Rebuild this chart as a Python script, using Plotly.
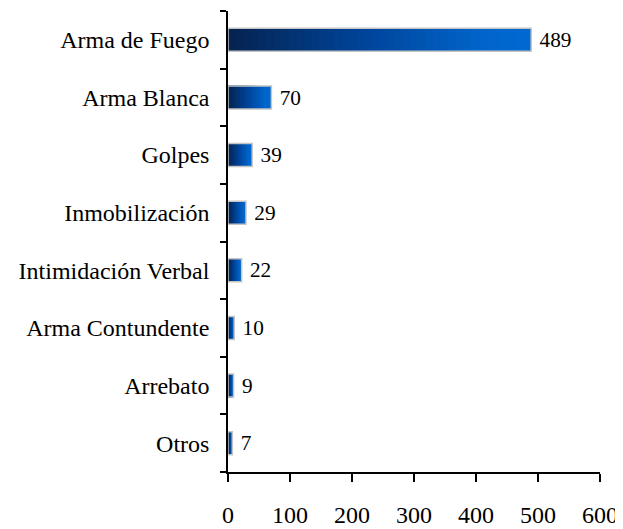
import plotly.graph_objects as go
from plotly.colors import sample_colorscale

categories = [
    "Arma de Fuego",
    "Arma Blanca",
    "Golpes",
    "Inmobilización",
    "Intimidación Verbal",
    "Arma Contundente",
    "Arrebato",
    "Otros",
]
values = [489, 70, 39, 29, 22, 10, 9, 7]
x_ticks = [0, 100, 200, 300, 400, 500, 600]

FONT = "Liberation Serif, Times New Roman, serif"
GRADIENT = [[0.0, "#05234f"], [0.45, "#00449a"], [0.85, "#0066cc"], [1.0, "#0068d0"]]
STEPS = 40

fig = go.Figure()

# gradient fill: overlaid bars, longest (brightest) first, shorter darker ones on top
for k in range(STEPS, 0, -1):
    frac = k / STEPS
    color = sample_colorscale(GRADIENT, [(k - 0.5) / STEPS])[0]
    fig.add_trace(go.Bar(
        y=categories,
        x=[v * frac for v in values],
        orientation="h",
        marker=dict(color=color, line=dict(width=0)),
        hoverinfo="skip",
        showlegend=False,
    ))

# outline + value labels
fig.add_trace(go.Bar(
    y=categories,
    x=values,
    orientation="h",
    marker=dict(color="rgba(0,0,0,0)", line=dict(color="#c4c4c4", width=1.5)),
    text=[" " + str(v) for v in values],
    textposition="outside",
    textfont=dict(family=FONT, size=24, color="black"),
    cliponaxis=False,
    showlegend=False,
))

# the page body adds an 8px offset, so the figure is sized 8px smaller
fig.update_layout(
    barmode="overlay",
    bargap=0.6,
    width=615,
    height=521,
    margin=dict(l=220, r=23, t=3, b=57),
    plot_bgcolor="white",
    paper_bgcolor="white",
    font=dict(family=FONT, size=24, color="black"),
)
fig.update_xaxes(
    range=[0, 600],
    tickvals=x_ticks,
    showgrid=False,
    zeroline=False,
    showline=True,
    linecolor="black",
    linewidth=1.5,
    ticks="outside",
    ticklen=8,
    tickwidth=1.5,
    tickcolor="black",
    ticklabelstandoff=12,
    automargin=False,
)
fig.update_yaxes(
    categoryorder="array",
    categoryarray=categories[::-1],
    showgrid=False,
    showline=True,
    linecolor="black",
    linewidth=1.5,
    ticks="outside",
    tickson="boundaries",
    ticklen=6,
    tickwidth=1.5,
    tickcolor="black",
    ticklabelstandoff=12,
    automargin=False,
)

fig.write_html("out.html")
